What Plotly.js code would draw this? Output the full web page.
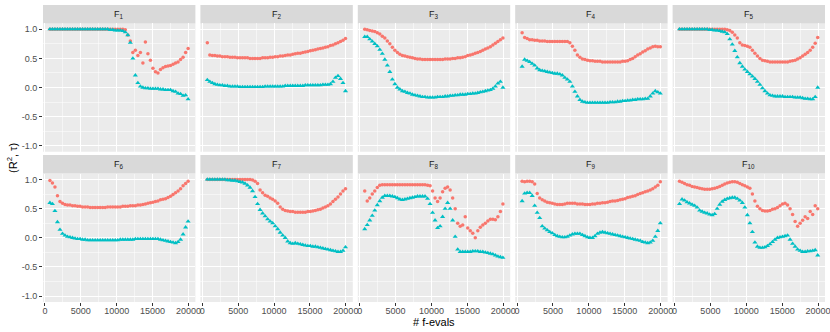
<!DOCTYPE html>
<html>
<head>
<meta charset="utf-8">
<script src="https://cdn.plot.ly/plotly-3.0.1.min.js"></script>
<style>
  body { margin: 0; background: #fff; }
  #chart { width: 830px; height: 332px; }
</style>
</head>
<body>
<div id="chart"></div>
<script>
// function evaluations at which both measures were recorded
var evals = [700, 1050, 1400, 1750, 2100, 2450, 2800, 3150,
  3500, 3850, 4200, 4550, 4900, 5250, 5600, 5950,
  6300, 6650, 7000, 7350, 7700, 8050, 8400, 8750,
  9100, 9450, 9800, 10150, 10500, 10850, 11200, 11550,
  11900, 12250, 12600, 12950, 13300, 13650, 14000, 14350,
  14700, 15050, 15400, 15750, 16100, 16450, 16800, 17150,
  17500, 17850, 18200, 18550, 18900, 19250, 19600, 19950];

// R^2 (red) and tau (teal) per function
var f1R2 = [1, 1, 1, 1, 1, 1, 1, 1,
  1, 1, 1, 1, 1, 1, 1, 1,
  1, 1, 1, 1, 1, 1, 1, 1,
  1, 1, 1, 1, 1, 1, 0.99, 0.9,
  0.8, 0.6, 0.64, 0.55, 0.6, 0.42, 0.78, 0.58,
  0.47, 0.33, 0.27, 0.25, 0.31, 0.34, 0.36, 0.37,
  0.38, 0.4, 0.42, 0.44, 0.48, 0.52, 0.6, 0.67];
var f1Tau = [1, 1, 1, 1, 1, 1, 1, 1,
  1, 1, 1, 1, 1, 1, 1, 1,
  1, 1, 1, 1, 1, 1, 1, 1,
  0.99, 0.99, 0.98, 0.98, 0.98, 0.97, 0.95, 0.9,
  0.77, 0.5, 0.21, 0.08, 0.02, 0.0, -0.01, -0.01,
  -0.02, -0.02, -0.02, -0.02, -0.03, -0.03, -0.04, -0.04,
  -0.04, -0.06, -0.07, -0.1, -0.11, -0.14, -0.13, -0.2];

var f2R2 = [0.77, 0.56, 0.55, 0.55, 0.54, 0.54, 0.53, 0.53,
  0.53, 0.52, 0.52, 0.52, 0.51, 0.51, 0.51, 0.51,
  0.51, 0.5, 0.5, 0.5, 0.5, 0.5, 0.51, 0.51,
  0.51, 0.52, 0.52, 0.53, 0.53, 0.54, 0.54, 0.55,
  0.56, 0.56, 0.57, 0.58, 0.59, 0.59, 0.6, 0.61,
  0.62, 0.63, 0.64, 0.65, 0.66, 0.67, 0.68, 0.69,
  0.7, 0.72, 0.73, 0.75, 0.77, 0.79, 0.81, 0.84];
var f2Tau = [0.13, 0.1, 0.08, 0.06, 0.05, 0.04, 0.04, 0.03,
  0.03, 0.02, 0.02, 0.02, 0.02, 0.01, 0.01, 0.01,
  0.01, 0.01, 0.01, 0.01, 0.01, 0.01, 0.01, 0.02,
  0.02, 0.02, 0.02, 0.02, 0.02, 0.02, 0.02, 0.03,
  0.03, 0.03, 0.03, 0.03, 0.03, 0.03, 0.03, 0.04,
  0.04, 0.04, 0.04, 0.04, 0.04, 0.04, 0.05, 0.05,
  0.05, 0.06, 0.1, 0.17, 0.2, 0.15, 0.08, -0.06];

var f3R2 = [1.0, 0.99, 0.98, 0.97, 0.96, 0.94, 0.92, 0.88,
  0.85, 0.8, 0.75, 0.69, 0.64, 0.6, 0.57, 0.55,
  0.54, 0.53, 0.52, 0.51, 0.5, 0.49, 0.49, 0.48,
  0.48, 0.48, 0.48, 0.48, 0.48, 0.48, 0.48, 0.48,
  0.49, 0.49, 0.49, 0.5, 0.5, 0.51, 0.51, 0.52,
  0.53, 0.55, 0.56, 0.57, 0.59, 0.6, 0.62, 0.64,
  0.66, 0.68, 0.7, 0.73, 0.76, 0.79, 0.82, 0.85];
var f3Tau = [0.87, 0.87, 0.83, 0.79, 0.75, 0.71, 0.65, 0.58,
  0.48, 0.38, 0.27, 0.14, 0.06, 0.0, -0.03, -0.06,
  -0.07, -0.09, -0.1, -0.12, -0.13, -0.14, -0.15, -0.16,
  -0.16, -0.17, -0.17, -0.17, -0.17, -0.16, -0.16, -0.16,
  -0.15, -0.15, -0.14, -0.14, -0.13, -0.13, -0.12, -0.12,
  -0.12, -0.11, -0.11, -0.1, -0.1, -0.09, -0.08, -0.07,
  -0.06, -0.05, -0.04, -0.02, 0.02, 0.07, 0.1, 0.0];

var f4R2 = [0.94, 0.86, 0.84, 0.82, 0.82, 0.81, 0.81, 0.8,
  0.8, 0.8, 0.79, 0.79, 0.79, 0.79, 0.79, 0.79,
  0.79, 0.79, 0.79, 0.77, 0.71, 0.64, 0.56, 0.52,
  0.49, 0.48, 0.47, 0.46, 0.46, 0.45, 0.45, 0.45,
  0.44, 0.44, 0.44, 0.44, 0.44, 0.44, 0.44, 0.44,
  0.45, 0.45, 0.46, 0.48, 0.5, 0.53, 0.56, 0.58,
  0.61, 0.63, 0.66, 0.68, 0.7, 0.71, 0.7, 0.7];
var f4Tau = [0.36, 0.48, 0.46, 0.44, 0.41, 0.38, 0.33, 0.3,
  0.29, 0.28, 0.27, 0.26, 0.25, 0.24, 0.24, 0.23,
  0.21, 0.17, 0.14, 0.1, 0.02, -0.07, -0.15, -0.21,
  -0.24, -0.25, -0.26, -0.26, -0.26, -0.26, -0.26, -0.26,
  -0.26, -0.26, -0.26, -0.25, -0.25, -0.25, -0.24, -0.24,
  -0.23, -0.23, -0.22, -0.22, -0.21, -0.21, -0.2, -0.2,
  -0.2, -0.19, -0.19, -0.15, -0.1, -0.06, -0.08, -0.1];

var f5R2 = [1, 1, 1, 1, 1, 1, 1, 1,
  1, 1, 1, 1, 1, 1, 1, 1,
  1.0, 1.0, 1.0, 0.99, 0.98, 0.95, 0.9, 0.85,
  0.77, 0.73, 0.72, 0.71, 0.69, 0.64, 0.59, 0.54,
  0.5, 0.47, 0.46, 0.45, 0.44, 0.44, 0.44, 0.44,
  0.44, 0.44, 0.44, 0.44, 0.45, 0.46, 0.47, 0.49,
  0.51, 0.54, 0.57, 0.6, 0.64, 0.69, 0.76, 0.86];
var f5Tau = [1, 1, 1, 1, 1, 1, 1, 1,
  1, 1, 1, 1, 0.99, 0.99, 0.98, 0.98,
  0.97, 0.96, 0.95, 0.92, 0.83, 0.74, 0.63, 0.52,
  0.42, 0.36, 0.31, 0.27, 0.23, 0.19, 0.15, 0.1,
  0.05, -0.01, -0.06, -0.1, -0.13, -0.14, -0.15, -0.15,
  -0.15, -0.15, -0.16, -0.16, -0.16, -0.16, -0.17, -0.17,
  -0.17, -0.18, -0.19, -0.19, -0.2, -0.2, -0.16, 0.0];

var f6R2 = [0.98, 0.94, 0.87, 0.72, 0.62, 0.59, 0.57, 0.56,
  0.56, 0.55, 0.55, 0.54, 0.54, 0.53, 0.53, 0.53,
  0.52, 0.52, 0.52, 0.52, 0.52, 0.52, 0.52, 0.53,
  0.53, 0.53, 0.53, 0.53, 0.53, 0.54, 0.54, 0.54,
  0.55, 0.55, 0.55, 0.56, 0.56, 0.57, 0.58, 0.59,
  0.6, 0.61, 0.62, 0.63, 0.65, 0.66, 0.67, 0.69,
  0.71, 0.74, 0.77, 0.8, 0.84, 0.89, 0.93, 0.97];
var f6Tau = [0.6, 0.58, 0.46, 0.27, 0.14, 0.07, 0.04, 0.02,
  0.01, 0.0, -0.01, -0.02, -0.02, -0.03, -0.03, -0.04,
  -0.04, -0.04, -0.04, -0.04, -0.04, -0.04, -0.04, -0.04,
  -0.04, -0.04, -0.04, -0.04, -0.03, -0.03, -0.03, -0.03,
  -0.03, -0.03, -0.02, -0.02, -0.02, -0.02, -0.02, -0.02,
  -0.02, -0.02, -0.02, -0.02, -0.03, -0.04, -0.05, -0.06,
  -0.07, -0.08, -0.09, -0.07, -0.03, 0.06, 0.18, 0.28];

var f7R2 = [1, 1, 1, 1, 1, 1, 1, 1,
  1, 1, 1, 1, 1, 1, 1, 1,
  1.0, 1.0, 0.99, 0.97, 0.93, 0.82, 0.77, 0.73,
  0.71, 0.68, 0.66, 0.63, 0.59, 0.53, 0.49, 0.47,
  0.46, 0.45, 0.45, 0.44, 0.44, 0.44, 0.44, 0.44,
  0.45, 0.45, 0.46, 0.47, 0.48, 0.49, 0.51, 0.53,
  0.55, 0.58, 0.62, 0.66, 0.7, 0.75, 0.8, 0.84];
var f7Tau = [1, 1, 1, 1, 1, 1, 1, 1,
  0.99, 0.99, 0.98, 0.98, 0.97, 0.96, 0.95, 0.93,
  0.9, 0.86, 0.8, 0.7, 0.58, 0.48, 0.42, 0.37,
  0.32, 0.28, 0.25, 0.2, 0.15, 0.09, 0.04, 0.0,
  -0.06, -0.09, -0.1, -0.09, -0.1, -0.11, -0.12, -0.13,
  -0.14, -0.14, -0.15, -0.15, -0.16, -0.17, -0.18, -0.19,
  -0.2, -0.21, -0.22, -0.23, -0.24, -0.24, -0.22, -0.16];

var f8R2 = [0.8, 0.63, 0.68, 0.75, 0.8, 0.86, 0.9, 0.91,
  0.91, 0.91, 0.91, 0.91, 0.91, 0.91, 0.91, 0.91,
  0.91, 0.91, 0.91, 0.91, 0.91, 0.91, 0.91, 0.91,
  0.91, 0.9, 0.89, 0.8, 0.68, 0.62, 0.68, 0.79,
  0.85, 0.87, 0.82, 0.68, 0.5, 0.25, 0.2, 0.22,
  0.36, 0.17, 0.12, 0.08, 0.0, 0.12, 0.18, 0.22,
  0.25, 0.29, 0.32, 0.32, 0.31, 0.36, 0.45, 0.58];
var f8Tau = [0.15, 0.22, 0.3, 0.38, 0.47, 0.56, 0.63, 0.69,
  0.72, 0.72, 0.72, 0.71, 0.7, 0.68, 0.66, 0.65,
  0.66, 0.67, 0.68, 0.69, 0.7, 0.71, 0.71, 0.71,
  0.71, 0.67, 0.58, 0.43, 0.3, 0.17, 0.2, 0.36,
  0.5, 0.6, 0.5, 0.3, 0.02, -0.2, -0.24, -0.24,
  -0.24, -0.24, -0.24, -0.23, -0.23, -0.23, -0.24, -0.24,
  -0.25, -0.26, -0.27, -0.28, -0.3, -0.32, -0.33, -0.34];

var f9R2 = [0.97, 0.96, 0.97, 0.97, 0.96, 0.92, 0.76, 0.68,
  0.65, 0.63, 0.61, 0.6, 0.59, 0.58, 0.57, 0.57,
  0.57, 0.58, 0.59, 0.59, 0.59, 0.59, 0.58, 0.58,
  0.58, 0.57, 0.57, 0.57, 0.58, 0.58, 0.59, 0.59,
  0.6, 0.6, 0.61, 0.62, 0.63, 0.63, 0.64, 0.65,
  0.66, 0.67, 0.69, 0.7, 0.71, 0.72, 0.74, 0.76,
  0.77, 0.79, 0.8, 0.82, 0.84, 0.87, 0.9, 0.96];
var f9Tau = [0.63, 0.76, 0.77, 0.77, 0.72, 0.55, 0.43, 0.34,
  0.2, 0.16, 0.13, 0.1, 0.08, 0.05, 0.03, 0.02,
  0.01, 0.01, 0.02, 0.04, 0.06, 0.07, 0.07, 0.07,
  0.05, 0.03, 0.01, 0.0, 0.0, 0.03, 0.07, 0.09,
  0.1, 0.09, 0.08, 0.07, 0.06, 0.05, 0.04, 0.03,
  0.02, 0.01, 0.0, -0.01, -0.02, -0.03, -0.04, -0.05,
  -0.07, -0.08, -0.09, -0.08, -0.05, 0.02, 0.12, 0.25];

var f10R2 = [0.97, 0.95, 0.93, 0.91, 0.9, 0.88, 0.87, 0.86,
  0.85, 0.84, 0.83, 0.83, 0.83, 0.84, 0.85, 0.86,
  0.88, 0.9, 0.92, 0.94, 0.95, 0.96, 0.96, 0.95,
  0.93, 0.91, 0.89, 0.87, 0.85, 0.75, 0.63, 0.54,
  0.5, 0.47, 0.46, 0.46, 0.47, 0.49, 0.5, 0.52,
  0.55, 0.58, 0.59, 0.56, 0.5, 0.4, 0.28, 0.2,
  0.25, 0.3, 0.36, 0.33, 0.45, 0.4, 0.55, 0.5];
var f10Tau = [0.58, 0.66, 0.64, 0.61, 0.59, 0.57, 0.55, 0.52,
  0.47, 0.45, 0.43, 0.42, 0.4, 0.39, 0.41, 0.5,
  0.57, 0.62, 0.65, 0.67, 0.68, 0.69, 0.69, 0.67,
  0.64, 0.6, 0.52, 0.39, 0.25, 0.1, -0.08, -0.15,
  -0.17, -0.17, -0.16, -0.14, -0.11, -0.07, -0.03, 0.0,
  0.01, 0.02, 0.03, 0.04, -0.03, -0.1, -0.15, -0.2,
  -0.22, -0.24, -0.24, -0.23, -0.23, -0.22, -0.21, -0.3];

var panelNames = ["F<sub>1</sub>", "F<sub>2</sub>", "F<sub>3</sub>", "F<sub>4</sub>", "F<sub>5</sub>",
  "F<sub>6</sub>", "F<sub>7</sub>", "F<sub>8</sub>", "F<sub>9</sub>", "F<sub>10</sub>"];
var r2Series = [f1R2, f2R2, f3R2, f4R2, f5R2, f6R2, f7R2, f8R2, f9R2, f10R2];
var tauSeries = [f1Tau, f2Tau, f3Tau, f4Tau, f5Tau, f6Tau, f7Tau, f8Tau, f9Tau, f10Tau];

var xTickVals = [0, 5000, 10000, 15000, 20000];
var xTickText = ["0", "5000", "10000", "15000", "20000"];
var xMinorVals = [2500, 7500, 12500, 17500];
var yTickVals = [-1, -0.5, 0, 0.5, 1];
var yTickText = ["-1.0", "-0.5", "0.0", "0.5", "1.0"];
var yMinorVals = [-0.75, -0.25, 0.25, 0.75];

var font = "Liberation Sans, Arial, sans-serif";
var panelW = 152.4 / 782;
var panelStep = 157.4 / 782;
var rowDomains = [[0.506, 0.938], [0, 0.4323]];
var stripDomains = [[0.938, 1.0], [0.4323, 0.4949]];

var data = [];
var layout = {
  width: 830,
  height: 332,
  margin: {l: 43, r: 5, t: 5, b: 30},
  paper_bgcolor: "white",
  plot_bgcolor: "#EBEBEB",
  showlegend: false,
  font: {family: font},
  shapes: [],
  annotations: []
};

for (var i = 0; i < 10; i++) {
  var col = i % 5;
  var row = Math.floor(i / 5);
  var sfx = i == 0 ? "" : String(i + 1);
  var x0 = col * panelStep;
  var x1 = x0 + panelW;

  data.push({
    x: evals, y: r2Series[i], xaxis: "x" + sfx, yaxis: "y" + sfx,
    type: "scatter", mode: "markers", name: "R2",
    marker: {color: "#F8766D", size: 3.5, symbol: "circle", line: {width: 0}}
  });
  data.push({
    x: evals, y: tauSeries[i], xaxis: "x" + sfx, yaxis: "y" + sfx,
    type: "scatter", mode: "markers", name: "tau",
    marker: {color: "#00BFC4", size: 4.5, symbol: "triangle-up", line: {width: 0}}
  });

  var showX = row == 1;
  var showY = col == 0;
  layout["xaxis" + sfx] = {
    domain: [x0, x1], anchor: "y" + sfx, range: [-265, 20965],
    tickmode: "array", tickvals: xTickVals, ticktext: xTickText,
    showticklabels: showX, ticks: showX ? "outside" : "", ticklen: 3,
    tickcolor: "#333333", tickwidth: 1, ticklabelstandoff: -3,
    ticklabeloverflow: "allow",
    tickfont: {size: 9, color: "#4D4D4D"},
    showgrid: true, gridcolor: "white", gridwidth: 1,
    minor: {tickmode: "array", tickvals: xMinorVals, showgrid: true, gridcolor: "white", gridwidth: 0.5, ticks: ""},
    zeroline: false, showline: false, fixedrange: true
  };
  layout["yaxis" + sfx] = {
    domain: rowDomains[row], anchor: "x" + sfx, range: [-1.1, 1.1],
    tickmode: "array", tickvals: yTickVals, ticktext: yTickText,
    showticklabels: showY, ticks: showY ? "outside" : "", ticklen: 3,
    tickcolor: "#333333", tickwidth: 1,
    tickfont: {size: 9, color: "#4D4D4D"},
    showgrid: true, gridcolor: "white", gridwidth: 1,
    minor: {tickmode: "array", tickvals: yMinorVals, showgrid: true, gridcolor: "white", gridwidth: 0.5, ticks: ""},
    zeroline: false, showline: false, fixedrange: true
  };

  // facet strip
  layout.shapes.push({
    type: "rect", xref: "paper", yref: "paper",
    x0: x0, x1: x1, y0: stripDomains[row][0], y1: stripDomains[row][1],
    fillcolor: "#D9D9D9", line: {width: 0}, layer: "below"
  });
  layout.annotations.push({
    xref: "paper", yref: "paper",
    x: (x0 + x1) / 2, y: (stripDomains[row][0] + stripDomains[row][1]) / 2,
    xanchor: "center", yanchor: "middle", showarrow: false,
    text: panelNames[i], font: {size: 9, color: "#1A1A1A", family: font}
  });
}

// shared axis titles
layout.annotations.push({
  xref: "paper", yref: "paper", x: (434 - 43) / 782, y: -0.068,
  xanchor: "center", yanchor: "middle", showarrow: false,
  text: "# f-evals", font: {size: 11, color: "black", family: font}
});
layout.annotations.push({
  xref: "paper", yref: "paper", x: (12 - 43) / 782, y: 0.485,
  xanchor: "center", yanchor: "middle", showarrow: false, textangle: -90,
  text: "(R<sup>2</sup>, τ)", font: {size: 11, color: "black", family: font}
});

Plotly.newPlot("chart", data, layout, {displayModeBar: false, staticPlot: true});
</script>
</body>
</html>
